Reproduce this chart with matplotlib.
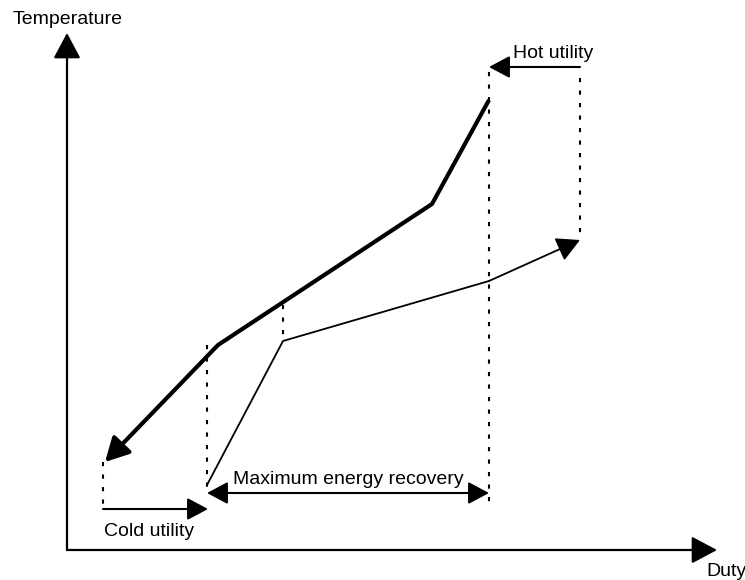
import matplotlib
matplotlib.use("Agg")
import matplotlib.pyplot as plt

# composite curve sketch, coordinates in picture units (x right, y down)
hot_x = [489, 432, 218, 105]
hot_y = [100, 204, 345, 462]
cold_x = [207, 283, 489, 580]
cold_y = [485, 341, 281, 240]

# dotted guide lines: (x, y_top, y_bottom)
guide_x = [103, 207, 283, 489, 580]
guide_top = [462, 345, 305, 72, 78]
guide_bot = [510, 488, 341, 505, 240]

# utility arrows: (x_start, x_end, y)
hot_util = (580, 489, 67)
cold_util = (103, 208, 509)
mer = (207, 489, 493)

labels = ["Temperature", "Duty", "Hot utility", "Cold utility", "Maximum energy recovery"]
label_x = [13, 706, 513, 104, 233]
label_y = [20, 572, 54, 531, 480]

fig = plt.figure(figsize=(7.45, 5.80), dpi=100)
ax = fig.add_axes([0, 0, 1, 1])
ax.set_xlim(0, 745)
ax.set_ylim(580, 0)
ax.axis("off")

def arrow(x0, y0, x1, y1, lw=1.5, scale=20):
    ax.annotate("", xy=(x1, y1), xytext=(x0, y0),
                arrowprops=dict(arrowstyle="-|>,head_length=0.75,head_width=0.4",
                                mutation_scale=scale, lw=lw, color="black",
                                shrinkA=0, shrinkB=0))

# axes
arrow(67, 550, 67, 33, lw=1.6, scale=21)
arrow(67, 550, 717, 550, lw=1.6, scale=21)

# hot and cold composite curves
ax.plot(hot_x[:-1], hot_y[:-1], color="black", lw=3.0, solid_capstyle="butt")
arrow(hot_x[-2], hot_y[-2], hot_x[-1], hot_y[-1], lw=3.0, scale=19)
ax.plot(cold_x[:-1], cold_y[:-1], color="black", lw=1.3)
arrow(cold_x[-2], cold_y[-2], cold_x[-1], cold_y[-1], lw=1.3, scale=19)

# dotted guides
for gx, t, b in zip(guide_x, guide_top, guide_bot):
    ax.plot([gx, gx], [t, b], color="black", lw=1.5, linestyle=(0, (2, 4)))

# utility arrows
arrow(hot_util[0], hot_util[2], hot_util[1], hot_util[2], lw=1.5, scale=17)
arrow(cold_util[0], cold_util[2], cold_util[1], cold_util[2], lw=1.5, scale=17)
ax.annotate("", xy=(mer[1], mer[2]), xytext=(mer[0], mer[2]),
            arrowprops=dict(arrowstyle="<|-|>,head_length=0.75,head_width=0.4",
                            mutation_scale=17, lw=1.5, color="black",
                            shrinkA=0, shrinkB=0))

for t, x, y in zip(labels, label_x, label_y):
    ax.text(x, y, t, fontsize=14, family="Liberation Sans", ha="left", va="center")

fig.savefig("out.png", dpi=100)
